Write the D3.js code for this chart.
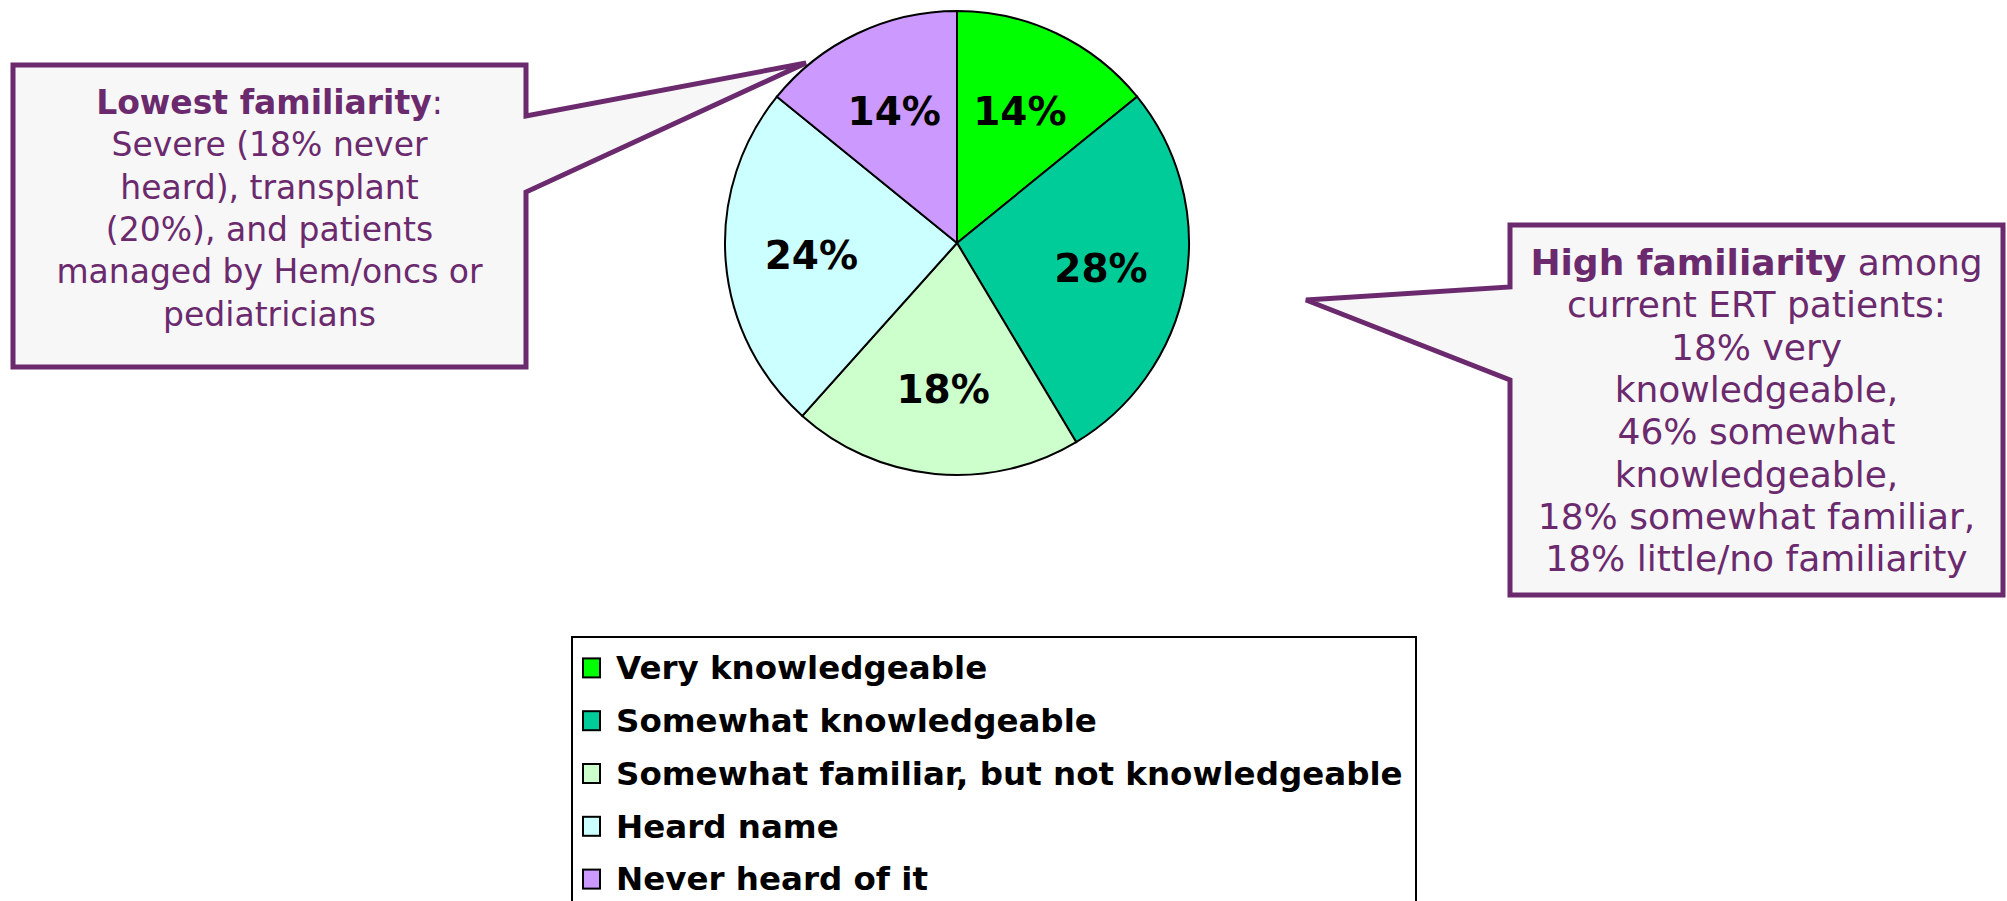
<!DOCTYPE html>
<html>
<head>
<meta charset="utf-8">
<script src="https://cdn.jsdelivr.net/npm/d3@7"></script>
<style>
  body { margin: 0; background: #fff; }
  svg { display: block; font-family: "DejaVu Sans", Verdana, sans-serif; }
</style>
</head>
<body>
<svg></svg>
<script>
// data
const categories = ['Very knowledgeable', 'Somewhat knowledgeable',
    'Somewhat familiar, but not knowledgeable', 'Heard name', 'Never heard of it'];
const shares = [14, 27, 20, 24, 14];          // slice sizes as drawn
const shareLabels = ['14%', '28%', '18%', '24%', '14%'];  // printed labels
const colors = ['#00ff00', '#00cc99', '#ccffcc', '#ccffff', '#cc99ff'];

const leftNote = [
    [['Lowest familiarity', true], [':', false]],
    [['Severe (18% never', false]],
    [['heard), transplant', false]],
    [['(20%), and patients', false]],
    [['managed by Hem/oncs or', false]],
    [['pediatricians', false]]
];
const rightNote = [
    [['High familiarity', true], [' among', false]],
    [['current ERT patients:', false]],
    [['18% very', false]],
    [['knowledgeable,', false]],
    [['46% somewhat', false]],
    [['knowledgeable,', false]],
    [['18% somewhat familiar,', false]],
    [['18% little/no familiarity', false]]
];

const width = 2007, height = 901;
const purple = '#6b2a6e';

const svg = d3.select('svg')
    .attr('width', width)
    .attr('height', height);

// ---- callouts (drawn first so the pie sits over the tip)
function callout(box, wedge, lines, lineTop, fontSize) {
    const g = svg.append('g');
    const [x0, y0, x1, y1] = box;
    const p = d3.path();
    if (wedge.side === 'right') {
        p.moveTo(x0, y0);
        p.lineTo(x1, y0);
        p.lineTo(x1, wedge.a);
        p.lineTo(wedge.tip[0], wedge.tip[1]);
        p.lineTo(x1, wedge.b);
        p.lineTo(x1, y1);
        p.lineTo(x0, y1);
    } else {
        p.moveTo(x0, y0);
        p.lineTo(x1, y0);
        p.lineTo(x1, y1);
        p.lineTo(x0, y1);
        p.lineTo(x0, wedge.b);
        p.lineTo(wedge.tip[0], wedge.tip[1]);
        p.lineTo(x0, wedge.a);
    }
    p.closePath();
    g.append('path')
        .attr('d', p.toString())
        .attr('fill', '#f7f7f7')
        .attr('stroke', purple)
        .attr('stroke-width', 5)
        .attr('stroke-linejoin', 'miter');

    const ly = d3.scaleLinear().domain([0, 1]).range([lineTop, lineTop + 42.3]);
    const t = g.append('text')
        .attr('text-anchor', 'middle')
        .attr('font-size', fontSize)
        .attr('fill', purple);
    lines.forEach((parts, i) => {
        const line = t.append('tspan')
            .attr('x', (x0 + x1) / 2)
            .attr('y', ly(i));
        parts.forEach(([s, bold]) => {
            line.append('tspan')
                .attr('font-weight', bold ? 'bold' : 'normal')
                .text(s);
        });
    });
}

callout([13, 65, 526, 367], {side: 'right', a: 116, b: 192, tip: [806, 63]}, leftNote, 114, 33);
callout([1510, 225, 2003, 595], {side: 'left', a: 287, b: 380, tip: [1306, 300]}, rightNote, 275, 36);

// ---- pie
const cx = 957, cy = 243, radius = 232;
const pie = d3.pie().sort(null).value(d => d);
const arcs = pie(shares);
const arc = d3.arc().innerRadius(0).outerRadius(radius);
const labelArc = d3.arc().innerRadius(radius * 0.63).outerRadius(radius * 0.63);

const gPie = svg.append('g')
    .attr('transform', `translate(${cx}, ${cy})`);

gPie.selectAll('path')
    .data(arcs)
    .join('path')
    .attr('d', arc)
    .attr('fill', (d, i) => colors[i])
    .attr('stroke', '#000')
    .attr('stroke-width', 2);

gPie.selectAll('text')
    .data(arcs)
    .join('text')
    .attr('transform', d => `translate(${labelArc.centroid(d)})`)
    .attr('text-anchor', 'middle')
    .attr('dy', '0.36em')
    .attr('font-size', 39)
    .attr('font-weight', 'bold')
    .attr('fill', '#000')
    .text((d, i) => shareLabels[i]);

// ---- legend
const legendY = d3.scaleBand().domain(categories).range([641, 905]);
const gLegend = svg.append('g');

gLegend.append('rect')
    .attr('x', 572)
    .attr('y', 637)
    .attr('width', 844)
    .attr('height', 300)
    .attr('fill', '#fff')
    .attr('stroke', '#000')
    .attr('stroke-width', 2);

const item = gLegend.selectAll('g.item')
    .data(categories)
    .join('g')
    .attr('class', 'item')
    .attr('transform', d => `translate(583, ${legendY(d) + legendY.bandwidth() / 2})`);

item.append('rect')
    .attr('x', 0)
    .attr('y', -9)
    .attr('width', 17)
    .attr('height', 19)
    .attr('fill', (d, i) => colors[i])
    .attr('stroke', '#000')
    .attr('stroke-width', 2);

item.append('text')
    .attr('x', 33)
    .attr('dy', '0.36em')
    .attr('font-size', 32.5)
    .attr('font-weight', 'bold')
    .attr('fill', '#000')
    .text(d => d);
</script>
</body>
</html>
